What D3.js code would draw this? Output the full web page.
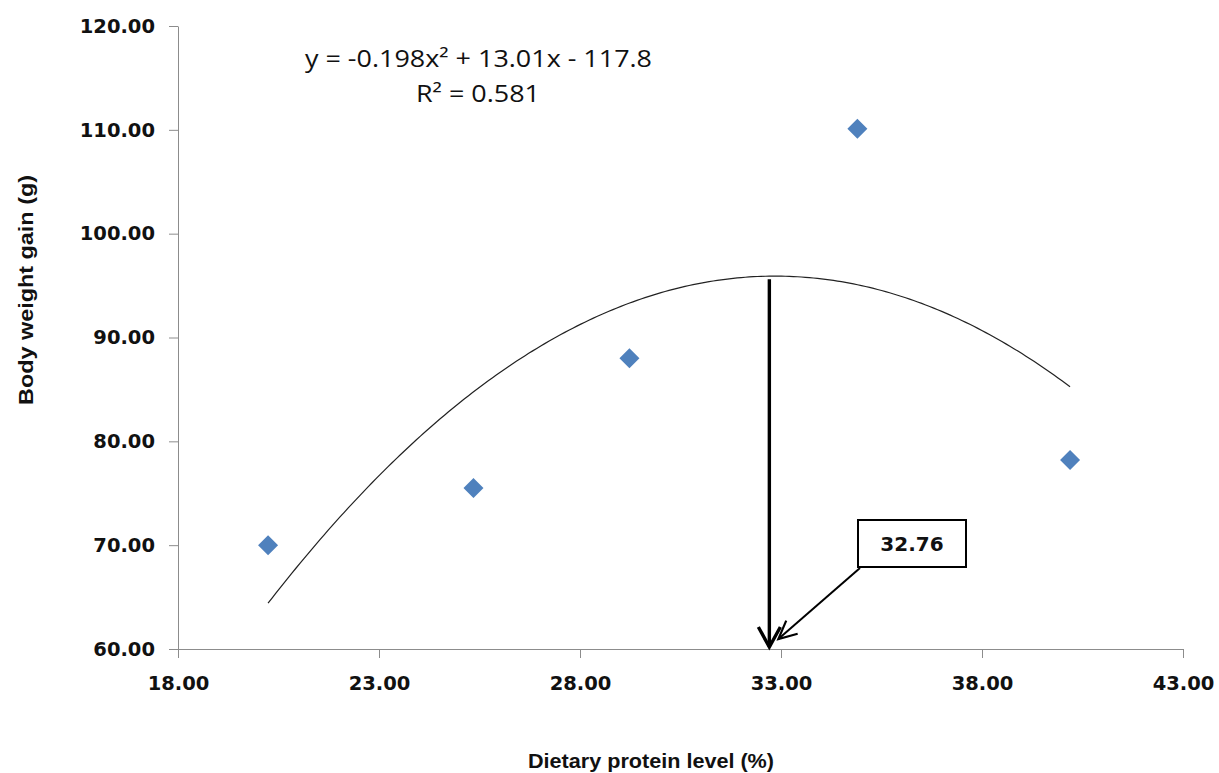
<!DOCTYPE html>
<html>
<head>
<meta charset="utf-8">
<script src="https://cdn.jsdelivr.net/npm/d3@7"></script>
<style>
  html, body { margin: 0; padding: 0; background: #fff; }
  svg { display: block; }
</style>
</head>
<body>
<svg id="chart" width="1219" height="773"></svg>
<script>
// ---- Data ----
const proteinLevel = [20.24, 25.35, 29.23, 34.90, 40.19];
const weightGain   = [70.0, 75.5, 88.0, 110.1, 78.2];
// trendline coefficients shown on the chart: y = a x^2 + b x + c
const trendCoef = [-0.198, 13.01, -117.8];
const optimumLevel = 32.76;
const xTickValues = [18, 23, 28, 33, 38, 43];
const yTickValues = [60, 70, 80, 90, 100, 110, 120];
const equationText = "y = -0.198x² + 13.01x - 117.8";
const r2Text = "R² = 0.581";
const xTitle = "Dietary protein level (%)";
const yTitle = "Body weight gain (g)";

const svg = d3.select("#chart");
const mLeft = 178, mRight = 1183, mTop = 26, mBottom = 649;

const x = d3.scaleLinear().domain([18, 43]).range([mLeft, mRight]);
const y = d3.scaleLinear().domain([60, 120]).range([mBottom, mTop]);

const axisColor = "#8c8c8c";
const tickFont = "'DejaVu Sans', Verdana, sans-serif";

// X axis
const gx = svg.append("g").attr("transform", `translate(0,${mBottom})`)
  .call(d3.axisBottom(x).tickValues(xTickValues).tickSizeInner(9).tickSizeOuter(0)
    .tickPadding(18).tickFormat(d3.format(".2f")));
gx.select(".domain").attr("stroke", axisColor);
gx.selectAll(".tick line").attr("stroke", axisColor);
gx.selectAll(".tick text").attr("font-family", tickFont).attr("font-weight", "bold")
  .attr("font-size", 19.5).attr("fill", "#111");

// Y axis
const gy = svg.append("g").attr("transform", `translate(${mLeft},0)`)
  .call(d3.axisLeft(y).tickValues(yTickValues).tickSizeInner(9).tickSizeOuter(0)
    .tickPadding(14).tickFormat(d3.format(".2f")));
gy.select(".domain").attr("stroke", axisColor);
gy.selectAll(".tick line").attr("stroke", axisColor);
gy.selectAll(".tick text").attr("font-family", tickFont).attr("font-weight", "bold")
  .attr("font-size", 19.5).attr("fill", "#111");

// Trendline
const trend = v => trendCoef[0] * v * v + trendCoef[1] * v + trendCoef[2];
const xs = d3.range(0, 201).map(i => proteinLevel[0] + (proteinLevel[proteinLevel.length - 1] - proteinLevel[0]) * i / 200);
svg.append("path")
  .datum(xs)
  .attr("fill", "none")
  .attr("stroke", "#222")
  .attr("stroke-width", 1.2)
  .attr("d", d3.line().x(d => x(d)).y(d => y(trend(d))));

// Points (diamonds)
const pts = proteinLevel.map((v, i) => ({ x: v, y: weightGain[i] }));
svg.selectAll("path.pt").data(pts).enter().append("path")
  .attr("class", "pt")
  .attr("d", d3.symbol().type(d3.symbolSquare).size(200))
  .attr("transform", d => `translate(${x(d.x)},${y(d.y)}) rotate(45)`)
  .attr("fill", "#4F81BD");

// Vertical arrow at optimum
const ox = x(optimumLevel) - 2;
const oyTop = y(trend(optimumLevel)) + 3;
const oyBot = mBottom - 2;
svg.append("line").attr("x1", ox).attr("x2", ox).attr("y1", oyTop).attr("y2", oyBot)
  .attr("stroke", "#000").attr("stroke-width", 3.4);
svg.append("path")
  .attr("d", `M${ox - 11},${oyBot - 20} L${ox},${oyBot} L${ox + 11},${oyBot - 20}`)
  .attr("fill", "none").attr("stroke", "#000").attr("stroke-width", 3.4)
  .attr("stroke-linejoin", "miter");

// Label box
const boxX = 858, boxY = 520, boxW = 108, boxH = 47;
svg.append("rect").attr("x", boxX).attr("y", boxY).attr("width", boxW).attr("height", boxH)
  .attr("fill", "#fff").attr("stroke", "#000").attr("stroke-width", 2);
svg.append("text").attr("x", boxX + boxW / 2).attr("y", boxY + boxH / 2 + 7)
  .attr("text-anchor", "middle").attr("font-family", tickFont).attr("font-weight", "bold")
  .attr("font-size", 20).attr("fill", "#111").text(optimumLevel.toFixed(2));

// Diagonal arrow from box to the optimum
const sx = boxX + 2, sy = boxY + boxH + 1;
const tx = ox + 9, ty = mBottom - 10;
svg.append("line").attr("x1", sx).attr("y1", sy).attr("x2", tx).attr("y2", ty)
  .attr("stroke", "#000").attr("stroke-width", 2);
const ang = Math.atan2(ty - sy, tx - sx);
const L = 20, spread = 0.45;
const w1 = [tx - L * Math.cos(ang - spread), ty - L * Math.sin(ang - spread)];
const w2 = [tx - L * Math.cos(ang + spread), ty - L * Math.sin(ang + spread)];
svg.append("path")
  .attr("d", `M${w1[0]},${w1[1]} L${tx},${ty} L${w2[0]},${w2[1]}`)
  .attr("fill", "none").attr("stroke", "#000").attr("stroke-width", 2.2);

// Equation text
const eqFont = "'Open Sans', 'Liberation Sans', Arial, sans-serif";
svg.append("text").attr("x", 305).attr("y", 67)
  .attr("font-family", eqFont).attr("font-size", 23).attr("fill", "#111")
  .attr("textLength", 347).attr("lengthAdjust", "spacingAndGlyphs")
  .text(equationText);
svg.append("text").attr("x", 416).attr("y", 102)
  .attr("font-family", eqFont).attr("font-size", 23).attr("fill", "#111")
  .attr("textLength", 124).attr("lengthAdjust", "spacingAndGlyphs")
  .text(r2Text);

// Axis titles
const titleFont = "'Liberation Sans Narrow', 'Liberation Sans', Arial, sans-serif";
svg.append("text").attr("x", 528).attr("y", 768)
  .attr("font-family", titleFont).attr("font-weight", "bold").attr("font-size", 21)
  .attr("textLength", 246).attr("lengthAdjust", "spacingAndGlyphs")
  .attr("fill", "#111").text(xTitle);
svg.append("text").attr("transform", "translate(33,405) rotate(-90)")
  .attr("font-family", titleFont).attr("font-weight", "bold").attr("font-size", 21)
  .attr("textLength", 230).attr("lengthAdjust", "spacingAndGlyphs")
  .attr("fill", "#111").text(yTitle);
</script>
</body>
</html>
